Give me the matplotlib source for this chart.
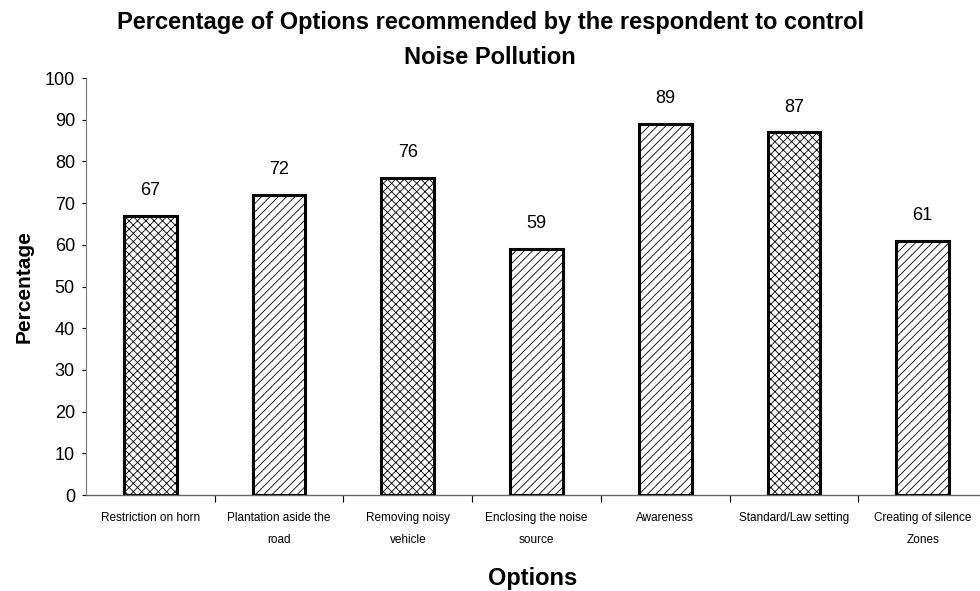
import matplotlib.pyplot as plt
import matplotlib as mpl

plt.rcParams['font.family'] = ['Liberation Sans', 'DejaVu Sans']

categories = ["Restriction on horn", "Plantation aside the\nroad", "Removing noisy\nvehicle",
              "Enclosing the noise\nsource", "Awareness", "Standard/Law setting",
              "Creating of silence\nZones"]
values = [67, 72, 76, 59, 89, 87, 61]
hatches = ['xxxx', '////', 'xxxx', '////', '////', 'xxxx', '////']

mpl.rcParams['hatch.linewidth'] = 0.6
mpl.rcParams['hatch.color'] = '#555555'

W, H = 980, 591
fig = plt.figure(figsize=(W / 100, H / 100), dpi=100)
ax = fig.add_axes([86 / W, 0.1624, 894 / W, 0.7056])

x = list(range(len(categories)))
bars = ax.bar(x, values, width=0.41, color='white', edgecolor='black', linewidth=2.2, zorder=3)
for b, h in zip(bars, hatches):
    b.set_hatch(h)

for xi, v in zip(x, values):
    ax.text(xi, v + 4, str(v), ha='center', va='bottom', fontsize=13)

ax.set_xlim(-0.5, 6.446)
ax.set_ylim(0, 100)
ax.set_yticks(range(0, 101, 10))
ax.tick_params(axis='y', labelsize=13, length=3, width=0.8, pad=5)
ax.set_xticks([i - 0.5 for i in range(1, len(categories))], minor=False)
ax.set_xticklabels([])
ax.set_xticks(x, minor=True)
ax.set_xticklabels(categories, minor=True, fontsize=8.5)
ax.tick_params(axis='x', which='major', direction='out', length=5, width=0.8)
ax.tick_params(axis='x', which='minor', length=0, pad=12)
for lbl in ax.get_xticklabels(minor=True):
    lbl.set_linespacing(2.15)

for s in ['top', 'right']:
    ax.spines[s].set_visible(False)
ax.spines['left'].set_color('#777777')
ax.spines['left'].set_linewidth(0.8)
ax.spines['bottom'].set_color('#666666')
ax.spines['bottom'].set_linewidth(1.0)

ax.set_ylabel('Percentage', fontsize=15, fontweight='bold', labelpad=8)
fig.text(533 / W, 1 - 578 / H, 'Options', ha='center', va='center', fontsize=17, fontweight='bold')
fig.text(0.5, 1 - 22 / H, 'Percentage of Options recommended by the respondent to control',
         ha='center', va='center', fontsize=17, fontweight='bold')
fig.text(0.5, 1 - 58 / H, 'Noise Pollution',
         ha='center', va='center', fontsize=17, fontweight='bold')

fig.savefig('out.png', dpi=100)
